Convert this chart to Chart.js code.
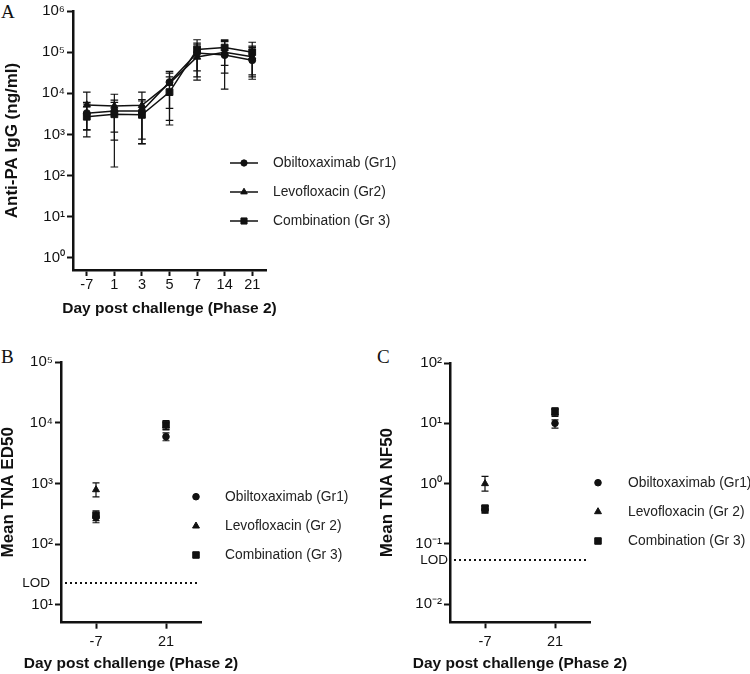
<!DOCTYPE html>
<html><head><meta charset="utf-8">
<script src="https://cdn.jsdelivr.net/npm/chart.js@4.4.1/dist/chart.umd.min.js"></script>
<style>
html,body{margin:0;padding:0;background:#fff;width:750px;height:674px;overflow:hidden;}
canvas{position:absolute;}
.lab{position:absolute;font-family:"Liberation Serif","Times New Roman",serif;font-size:19px;line-height:19px;color:#111;}
</style></head><body>
<div class="lab" style="left:1px;top:2px">A</div>
<div class="lab" style="left:1px;top:347px">B</div>
<div class="lab" style="left:377px;top:347px">C</div>
<canvas id="cA" width="750" height="336" style="left:0;top:0"></canvas>
<canvas id="cB" width="375" height="336" style="left:0;top:338px"></canvas>
<canvas id="cC" width="375" height="336" style="left:375px;top:338px"></canvas>
<script>
// ---------- Panel A data ----------
const daysA = ['-7', '1', '3', '5', '7', '14', '21'];
const obiA   = [3300, 3700, 3700, 18700, 95000, 85000, 64000];
const obiALo = [1300, 1140, 590, 4300, 35000, 31000, 22000];
const obiAHi = [6000, 6800, 7000, 34000, 165000, 190000, 130000];
const levoA   = [5200, 4900, 5100, 17500, 76000, 100000, 77000];
const levoALo = [1300, 730, 770, 2200, 21000, 12600, 28000];
const levoAHi = [10700, 9500, 10700, 31000, 150000, 180000, 140000];
const combA   = [2700, 3100, 3000, 10700, 116000, 129000, 100000];
const combALo = [870, 162, 600, 1700, 25000, 48000, 25000];
const combAHi = [5500, 6000, 6500, 25000, 200000, 200000, 174000];
const ticksA = [1, 10, 100, 1000, 10000, 100000, 1000000];

// ---------- Panel B data ----------
const daysBC = ['-7', '21'];
const obiB   = [280, 5900];
const obiBLo = [226, 5050];
const obiBHi = [340, 6800];
const levoB   = [790, 8800];
const levoBLo = [600, 7800];
const levoBHi = [1020, 10000];
const combB   = [298, 9400];
const combBLo = [245, 7600];
const combBHi = [356, 10800];
const ticksB = [10, 100, 1000, 10000, 100000];
const lodB = 23;

// ---------- Panel C data ----------
const obiC   = [0.37, 10];
const obiCLo = [0.325, 8.3];
const obiCHi = [0.42, 11.4];
const levoC   = [1.0, 14.8];
const levoCLo = [0.75, 13];
const levoCHi = [1.32, 17];
const combC   = [0.39, 15.8];
const combCLo = [0.33, 13.6];
const combCHi = [0.44, 18.1];
const ticksC = [0.01, 0.1, 1, 10, 100];
const lodC = 0.054;

const namesA = ['Obiltoxaximab (Gr1)', 'Levofloxacin (Gr2)', 'Combination (Gr 3)'];
const namesBC = ['Obiltoxaximab (Gr1)', 'Levofloxacin (Gr 2)', 'Combination (Gr 3)'];
const xTitle = 'Day post challenge (Phase 2)';

const FF = '"Liberation Sans", Arial, Helvetica, sans-serif';
const INK = '#111';
const SUP = {'-':'\u207B','0':'\u2070','1':'\u00B9','2':'\u00B2','3':'\u00B3','4':'\u2074','5':'\u2075','6':'\u2076','7':'\u2077','8':'\u2078','9':'\u2079'};
const sup = v => '10' + String(Math.round(Math.log10(v))).split('').map(c => SUP[c]).join('');

const errBars = {
  id: 'errBars',
  beforeDatasetsDraw(chart, args, opts) {
    const ctx = chart.ctx, ys = chart.scales.y, c = opts.cap;
    ctx.save();
    ctx.strokeStyle = INK; ctx.lineWidth = opts.width;
    chart.data.datasets.forEach((ds, di) => {
      chart.getDatasetMeta(di).data.forEach((pt, i) => {
        const x = pt.x, y1 = ys.getPixelForValue(ds.errLo[i]), y2 = ys.getPixelForValue(ds.errHi[i]);
        ctx.beginPath();
        ctx.moveTo(x, y1); ctx.lineTo(x, y2);
        ctx.moveTo(x - c, y1); ctx.lineTo(x + c, y1);
        ctx.moveTo(x - c, y2); ctx.lineTo(x + c, y2);
        ctx.stroke();
      });
    });
    ctx.restore();
  }
};

const customLegend = {
  id: 'customLegend',
  afterDraw(chart, args, o) {
    const ctx = chart.ctx;
    ctx.save();
    chart.data.datasets.forEach((ds, i) => {
      const y = o.ys[i];
      ctx.strokeStyle = INK; ctx.fillStyle = INK;
      if (o.lineHalf) {
        ctx.lineWidth = 1.5;
        ctx.beginPath(); ctx.moveTo(o.x - o.lineHalf, y); ctx.lineTo(o.x + o.lineHalf, y); ctx.stroke();
      }
      ctx.lineWidth = 1;
      Chart.helpers.drawPoint(ctx, {pointStyle: ds.pointStyle, radius: ds.pointRadius * o.scale, borderWidth: 1, rotation: 0}, o.x, y);
      ctx.fillStyle = '#222';
      ctx.font = '13.8px ' + FF;
      ctx.textBaseline = 'middle'; ctx.textAlign = 'left';
      ctx.fillText(ds.label, o.textX, y + 0.5);
    });
    ctx.restore();
  }
};

const xTitlePlugin = {
  id: 'xTitlePlugin',
  afterDraw(chart, args, o) {
    const ctx = chart.ctx, a = chart.chartArea;
    ctx.save();
    ctx.fillStyle = INK; ctx.font = 'bold 15.5px ' + FF;
    ctx.textAlign = 'center'; ctx.textBaseline = 'middle';
    ctx.fillText(o.text, (a.left + a.right) / 2, o.y);
    ctx.restore();
  }
};

const lodLine = {
  id: 'lodLine',
  afterDatasetsDraw(chart, args, o) {
    if (o.value == null) return;
    const ctx = chart.ctx, a = chart.chartArea, y = chart.scales.y.getPixelForValue(o.value);
    ctx.save();
    ctx.strokeStyle = INK; ctx.lineWidth = 2; ctx.setLineDash([2, 3]);
    ctx.beginPath(); ctx.moveTo(a.left + 4, y); ctx.lineTo(a.right - 3, y); ctx.stroke();
    ctx.setLineDash([]);
    ctx.fillStyle = INK; ctx.font = '13.5px ' + FF; ctx.textAlign = 'right'; ctx.textBaseline = 'middle';
    ctx.fillText('LOD', a.left - o.textGap, y);
    ctx.restore();
  }
};

function yScale(o) {
  return {
    type: 'logarithmic', min: o.min, max: o.max,
    afterBuildTicks: s => { s.ticks = o.ticks.map(v => ({value: v})); },
    afterFit: s => { s.width = o.width; },
    ticks: {callback: v => sup(v), font: {family: FF, size: 15}, color: INK, padding: 2, autoSkip: false},
    grid: {drawOnChartArea: false, drawTicks: true, tickLength: 6, tickWidth: 2, tickColor: INK},
    border: {display: true, color: INK, width: 2.5},
    title: {display: true, text: o.title, color: INK, font: {family: FF, size: 17, weight: 'bold', lineHeight: 1}, padding: {top: o.titlePad, bottom: 0}}
  };
}
function xScale(o) {
  return {
    type: 'category', offset: true,
    afterFit: s => { s.height = o.height; },
    ticks: {font: {family: FF, size: 14.5}, color: INK, padding: o.tickPad, autoSkip: false, maxRotation: 0},
    grid: {drawOnChartArea: false, drawTicks: true, tickLength: 6, tickWidth: 2, tickColor: INK, offset: false},
    border: {display: true, color: INK, width: 2.5},
    title: {display: false}
  };
}
function ds(label, data, lo, hi, style, r, showLine) {
  return {label, data, errLo: lo, errHi: hi, pointStyle: style, pointRadius: r, pointHoverRadius: r,
    borderColor: INK, backgroundColor: INK, pointBackgroundColor: INK, pointBorderColor: INK, pointBorderWidth: 1,
    borderWidth: 1.5, showLine, tension: 0, clip: false};
}
const baseOpts = (o) => ({
  responsive: false, animation: false, devicePixelRatio: 1,
  layout: {padding: o.pad},
  scales: {x: xScale(o.x), y: yScale(o.y)},
  plugins: {legend: {display: false}, tooltip: {enabled: false},
    errBars: o.err, customLegend: o.legend, lodLine: o.lod || {},
    xTitlePlugin: {text: xTitle, y: o.x.titleY}}
});
const plugs = [errBars, customLegend, lodLine, xTitlePlugin];

new Chart(document.getElementById('cA'), {
  type: 'line',
  data: {labels: daysA, datasets: [
    ds(namesA[0], obiA, obiALo, obiAHi, 'circle', 3.5, true),
    ds(namesA[1], levoA, levoALo, levoAHi, 'triangle', 4.2, true),
    ds(namesA[2], combA, combALo, combAHi, 'rect', 4.8, true)
  ]},
  options: baseOpts({
    pad: {top: 11, left: 0, right: 484, bottom: 0},
    x: {height: 66, tickPad: 0, titleY: 309},
    y: {min: 0.51, max: 1e6, ticks: ticksA, width: 73, title: 'Anti-PA IgG (ng/ml)', titlePad: 4},
    err: {cap: 3.8, width: 1.2},
    legend: {x: 244, textX: 273, ys: [163, 192, 221], lineHalf: 14, scale: 0.9}
  }),
  plugins: plugs
});

new Chart(document.getElementById('cB'), {
  type: 'line',
  data: {labels: daysBC, datasets: [
    ds(namesBC[0], obiB, obiBLo, obiBHi, 'circle', 3.3, false),
    ds(namesBC[1], levoB, levoBLo, levoBHi, 'triangle', 4, false),
    ds(namesBC[2], combB, combBLo, combBHi, 'rect', 4.6, false)
  ]},
  options: baseOpts({
    pad: {top: 24, left: 0, right: 174, bottom: 0},
    x: {height: 51.3, tickPad: 4.5, titleY: 325.5},
    y: {min: 5.11, max: 1e5, ticks: ticksB, width: 61, title: 'Mean TNA ED50', titlePad: 0},
    err: {cap: 3.5, width: 1.2},
    legend: {x: 196, textX: 225, ys: [158.7, 188, 217], lineHalf: 0, scale: 1},
    lod: {value: lodB, textGap: 11}
  }),
  plugins: plugs
});

new Chart(document.getElementById('cC'), {
  type: 'line',
  data: {labels: daysBC, datasets: [
    ds(namesBC[0], obiC, obiCLo, obiCHi, 'circle', 3.3, false),
    ds(namesBC[1], levoC, levoCLo, levoCHi, 'triangle', 4, false),
    ds(namesBC[2], combC, combCLo, combCHi, 'rect', 4.6, false)
  ]},
  options: baseOpts({
    pad: {top: 25, left: 0, right: 160, bottom: 0},
    x: {height: 51.7, tickPad: 4.5, titleY: 325.5},
    y: {min: 0.00503, max: 100, ticks: ticksC, width: 75, title: 'Mean TNA NF50', titlePad: 4},
    err: {cap: 3.5, width: 1.2},
    legend: {x: 223, textX: 253, ys: [144.7, 173.7, 203], lineHalf: 0, scale: 1},
    lod: {value: lodC, textGap: 2}
  }),
  plugins: plugs
});
</script>
</body></html>
